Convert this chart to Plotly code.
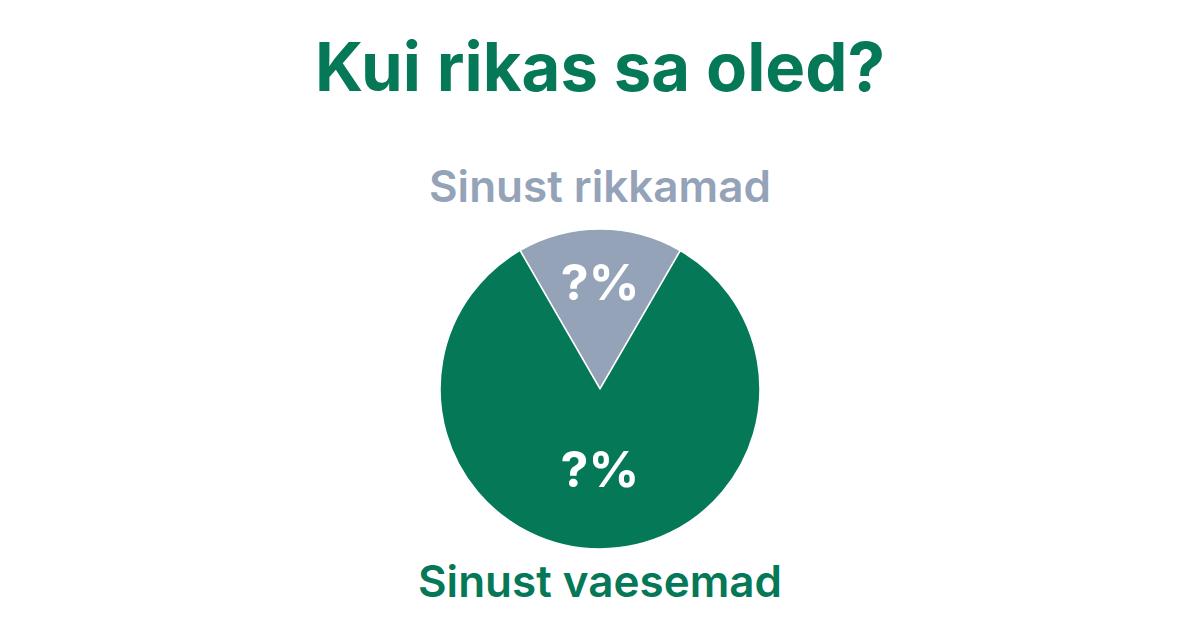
import plotly.graph_objects as go

categories = ["Sinust rikkamad", "Sinust vaesemad"]
values = [16.7, 83.3]
slice_text = ["?%", "?%"]
colors = ["#94A3B8", "#047857"]

fig = go.Figure(go.Pie(
    labels=categories,
    values=values,
    text=slice_text,
    textinfo="text",
    textposition="inside",
    insidetextorientation="horizontal",
    insidetextfont=dict(family="Inter", size=50, color="white", weight=700),
    marker=dict(colors=colors, line=dict(color="white", width=1.5)),
    sort=False,
    direction="clockwise",
    rotation=-30,
    hole=0,
    domain=dict(x=[0.3667, 0.6333], y=[0.1286, 0.6365]),
    showlegend=False,
))

fig.update_layout(
    width=1200, height=630,
    margin=dict(l=0, r=0, t=0, b=0),
    paper_bgcolor="white", plot_bgcolor="white",
    title=dict(text="Kui rikas sa oled?", x=0.5, xanchor="center", y=1 - 68/630, yanchor="middle",
               font=dict(family="Inter", size=67, color="#047857", weight=700)),
    annotations=[
        dict(text=categories[0], x=0.5, y=1 - 186/630, xref="paper", yref="paper",
             xanchor="center", yanchor="middle", showarrow=False,
             font=dict(family="Inter", size=44, color="#94A3B8", weight=600)),
        dict(text=categories[1], x=0.5, y=1 - 581/630, xref="paper", yref="paper",
             xanchor="center", yanchor="middle", showarrow=False,
             font=dict(family="Inter", size=44, color="#047857", weight=600)),
    ],
)

fig.write_html("out.html")
